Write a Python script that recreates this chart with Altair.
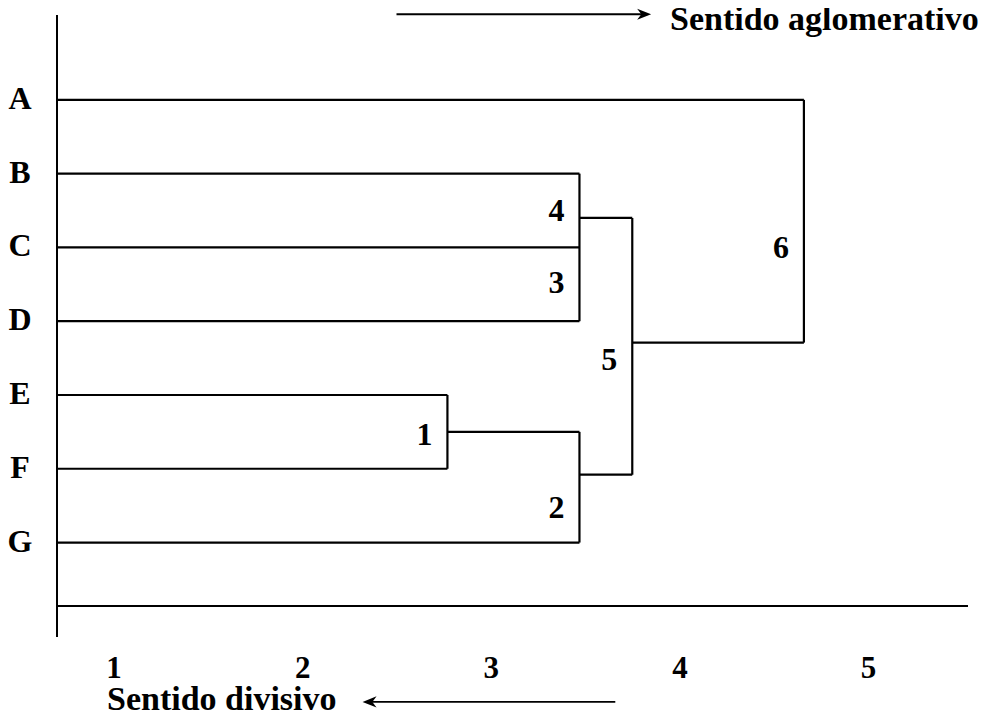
import altair as alt
import pandas as pd

# ---- data ----
leaves = ["A", "B", "C", "D", "E", "F", "G"]
leaf_pos = [0, 1, 2, 3, 4, 5, 6]

merge_ids = ["1", "2", "3", "4", "5", "6"]
merge_child_a = ["E", "m1", "C", "B", "m4", "A"]
merge_child_b = ["F", "G", "D", "m3", "m2", "m5"]
merge_height = [2.77, 3.47, 3.47, 3.47, 3.75, 4.66]
merge_node_y = [4.50, 5.08, 2.50, 1.60, 3.29, 1.65]
merge_label_y = [4.54, 5.53, 2.48, 1.50, 3.52, 2.01]

tick_values = [1, 2, 3, 4, 5]

# scale frame
X_MIN, X_MAX = 0.70, 5.53
Y_MIN, Y_MAX = -1.15, 6.86
Y_AXIS_END = 7.28
LEAF_BASE = X_MIN

FONT = "Liberation Serif"

# ---- build dendrogram segments ----
pos = {}
for name, p in zip(leaves, leaf_pos):
    pos[name] = (LEAF_BASE, p)
for i, mid in enumerate(merge_ids):
    pos["m" + mid] = (merge_height[i], merge_node_y[i])

horiz = []
verts = {}
for i in range(len(merge_ids)):
    H = merge_height[i]
    ha, ya = pos[merge_child_a[i]]
    hb, yb = pos[merge_child_b[i]]
    if ha < H:
        horiz.append({"x": ha, "x2": H, "y": ya, "y2": ya})
    if hb < H:
        horiz.append({"x": hb, "x2": H, "y": yb, "y2": yb})
    verts.setdefault(H, []).append(sorted([ya, yb]))

# merge collinear vertical pieces so no stretch is drawn twice
segs = list(horiz)
for H, ivs in verts.items():
    ivs.sort()
    cur = list(ivs[0])
    for a, b in ivs[1:]:
        if a <= cur[1]:
            cur[1] = max(cur[1], b)
        else:
            segs.append({"x": H, "x2": H, "y": cur[0], "y2": cur[1]})
            cur = [a, b]
    segs.append({"x": H, "x2": H, "y": cur[0], "y2": cur[1]})
seg_df = pd.DataFrame(segs)

xs = alt.Scale(domain=[X_MIN, X_MAX], nice=False, zero=False)
ys = alt.Scale(domain=[Y_MIN, Y_MAX], nice=False, zero=False, reverse=True)

x_axis = alt.Axis(values=tick_values, format="d", domain=False, ticks=False, tickSize=0,
                  grid=False, labelFont=FONT, labelFontSize=31, labelFontWeight="bold",
                  labelColor="black", labelPadding=47, title=None, labelFlush=False)

# frame lines (axis lines drawn by hand)
frame_df = pd.DataFrame([
    {"x": X_MIN, "x2": X_MIN, "y": Y_MIN, "y2": Y_AXIS_END},
    {"x": X_MIN, "x2": X_MAX, "y": Y_MAX, "y2": Y_MAX},
])
frame = alt.Chart(frame_df).mark_rule(color="black", strokeWidth=2).encode(
    x=alt.X("x:Q", scale=xs, axis=x_axis), x2="x2:Q",
    y=alt.Y("y:Q", scale=ys, axis=None), y2="y2:Q")

dendro = alt.Chart(seg_df).mark_rule(color="black", strokeWidth=2.2).encode(
    x=alt.X("x:Q", scale=xs), x2="x2:Q",
    y=alt.Y("y:Q", scale=ys), y2="y2:Q")

leaf_df = pd.DataFrame({"name": leaves, "y": leaf_pos, "x": [LEAF_BASE] * len(leaves)})
leaf_text = alt.Chart(leaf_df).mark_text(
    font=FONT, fontSize=32, fontWeight="bold", color="black",
    align="center", baseline="middle", dx=-37, dy=-1).encode(
    x=alt.X("x:Q", scale=xs), y=alt.Y("y:Q", scale=ys), text="name:N")

mlab_df = pd.DataFrame({"t": merge_ids, "x": merge_height, "y": merge_label_y})
merge_text = alt.Chart(mlab_df).mark_text(
    font=FONT, fontSize=32, fontWeight="bold", color="black",
    align="right", baseline="middle", dx=-15).encode(
    x=alt.X("x:Q", scale=xs), y=alt.Y("y:Q", scale=ys), text="t:N")

# annotations: direction arrows and captions
arrow_df = pd.DataFrame([
    {"x": 2.50, "x2": 3.83, "y": -1.16, "y2": -1.16},
    {"x": 2.34, "x2": 3.66, "y": 8.16, "y2": 8.16},
])
arrow_lines = alt.Chart(arrow_df).mark_rule(color="black", strokeWidth=1.8).encode(
    x=alt.X("x:Q", scale=xs), x2="x2:Q", y=alt.Y("y:Q", scale=ys), y2="y2:Q")

head_r = pd.DataFrame([{"x": 3.85, "y": -1.16}])
head_l = pd.DataFrame([{"x": 2.32, "y": 8.16}])
arrow_head_r = alt.Chart(head_r).mark_point(
    shape="M0,0 L-2,-0.8 L-1.4,0 L-2,0.8 Z", size=196, filled=True,
    color="black", opacity=1).encode(
    x=alt.X("x:Q", scale=xs), y=alt.Y("y:Q", scale=ys))
arrow_head_l = alt.Chart(head_l).mark_point(
    shape="M0,0 L2,-0.8 L1.4,0 L2,0.8 Z", size=196, filled=True,
    color="black", opacity=1).encode(
    x=alt.X("x:Q", scale=xs), y=alt.Y("y:Q", scale=ys))

cap_df = pd.DataFrame([
    {"t": "Sentido aglomerativo", "x": 3.95, "y": -0.94},
    {"t": "Sentido divisivo", "x": 0.965, "y": 8.27},
])
captions = alt.Chart(cap_df).mark_text(
    font=FONT, fontSize=34, fontWeight="bold", color="black",
    align="left", baseline="alphabetic").encode(
    x=alt.X("x:Q", scale=xs), y=alt.Y("y:Q", scale=ys), text="t:N")

chart = alt.layer(frame, dendro, leaf_text, merge_text, arrow_lines,
                  arrow_head_r, arrow_head_l, captions).properties(
    width=911, height=591,
    autosize=alt.AutoSizeParams(type="none"),
    padding={"left": 49, "top": 7, "right": 12, "bottom": 111},
    background="white",
).configure_view(stroke=None)

chart.save("out.html", embed_options={"renderer": "svg", "actions": False})
